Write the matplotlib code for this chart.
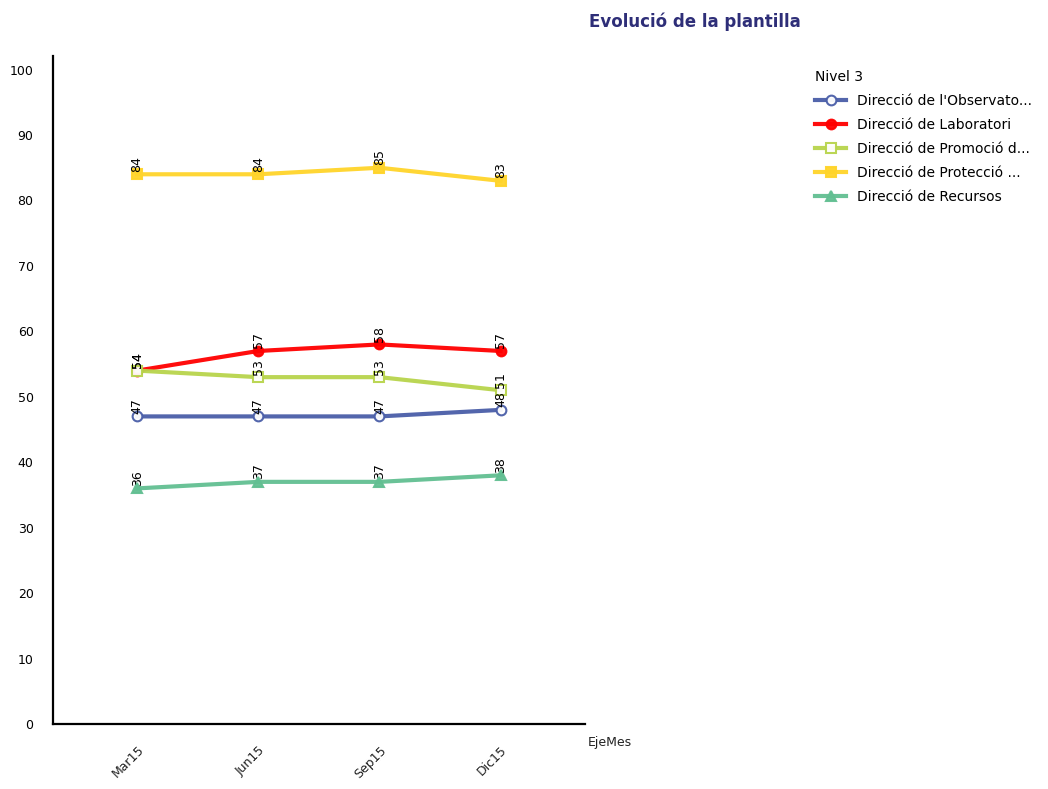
import matplotlib
matplotlib.use("Agg")
import matplotlib.pyplot as plt

months = ["Mar15", "Jun15", "Sep15", "Dic15"]

names = [
    "Direcció de l'Observato...",
    "Direcció de Laboratori",
    "Direcció de Promoció d...",
    "Direcció de Protecció ...",
    "Direcció de Recursos",
]
observatori = [47, 47, 47, 48]
laboratori = [54, 57, 58, 57]
promocio = [54, 53, 53, 51]
proteccio = [84, 84, 85, 83]
recursos = [36, 37, 37, 38]

series = [observatori, laboratori, promocio, proteccio, recursos]
colors = ["#4a5ea8", "#ff0000", "#b8d44c", "#ffd42a", "#62bf92"]
markers = ["o", "o", "s", "s", "^"]
filled = [False, True, False, True, True]

fig = plt.figure(figsize=(10.48, 7.89), dpi=100)
ax = fig.add_axes([0.0506, 0.0824, 0.508, 0.846])

x = list(range(len(months)))
for vals, name, c, m, f in zip(series, names, colors, markers, filled):
    ax.plot(x, vals, color=c, linewidth=3, marker=m, markersize=7,
            markerfacecolor=c if f else "white", markeredgecolor=c,
            markeredgewidth=1.5, label=name, alpha=0.95)
    for xi, v in zip(x, vals):
        ax.text(xi, v + 0.4, str(v), rotation=90, ha="center", va="bottom",
                fontsize=9, color="black")

ax.set_xlim(-0.694, 3.70)
ax.set_ylim(0, 102)
ax.set_yticks(range(0, 101, 10))
ax.set_xticks(x)
ax.set_xticklabels(months, rotation=45, ha="right", rotation_mode="anchor",
                   fontsize=9, color="#222222")
ax.tick_params(axis="y", length=0, labelsize=9, pad=14)
ax.tick_params(axis="x", length=0, pad=14)
for s in ["top", "right"]:
    ax.spines[s].set_visible(False)
ax.spines["left"].set_linewidth(1.6)
ax.spines["bottom"].set_linewidth(1.6)

fig.text(0.561, 0.059, "EjeMes", fontsize=9, color="#222222", ha="left", va="center")
fig.text(0.663, 0.972, "Evolució de la plantilla", fontsize=12, fontweight="bold",
         color="#2e2e78", ha="center", va="center")

leg = fig.legend(loc="upper left", bbox_to_anchor=(0.766, 0.927), frameon=False,
                 title="Nivel 3", fontsize=10, title_fontsize=10,
                 handlelength=2.2, labelspacing=0.72, handletextpad=0.8)
leg._legend_box.align = "left"

fig.savefig("out.png", dpi=100)
